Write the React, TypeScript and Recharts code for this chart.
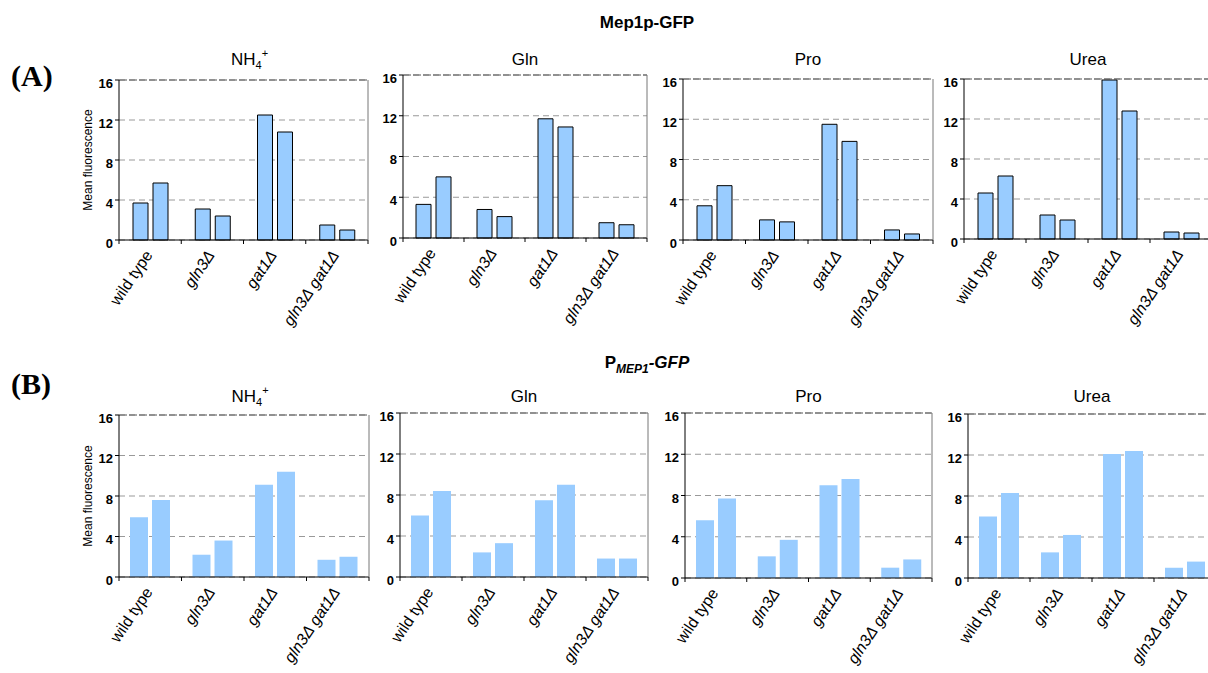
import * as React from "react"
import { BarChart, Bar, XAxis, YAxis, CartesianGrid, ReferenceLine } from "recharts"

// strains on the x axis
const strains = ["wild type", "gln3Δ", "gat1Δ", "gln3Δ gat1Δ"]
const italicStrain = [false, true, true, true]
const yTicks = [0, 4, 8, 12, 16]

// (A) Mep1p-GFP, two bars per strain
const mepNH4First = [3.7, 3.1, 12.5, 1.5]
const mepNH4Second = [5.7, 2.4, 10.8, 1.0]
const mepGlnFirst = [3.3, 2.8, 11.7, 1.5]
const mepGlnSecond = [6.0, 2.1, 10.9, 1.3]
const mepProFirst = [3.4, 2.0, 11.5, 1.0]
const mepProSecond = [5.4, 1.8, 9.8, 0.6]
const mepUreaFirst = [4.6, 2.4, 15.9, 0.7]
const mepUreaSecond = [6.3, 1.9, 12.8, 0.6]

// (B) P_MEP1-GFP
const promNH4First = [5.9, 2.2, 9.1, 1.7]
const promNH4Second = [7.6, 3.6, 10.4, 2.0]
const promGlnFirst = [6.0, 2.4, 7.5, 1.8]
const promGlnSecond = [8.4, 3.3, 9.0, 1.8]
const promProFirst = [5.6, 2.1, 9.0, 1.0]
const promProSecond = [7.7, 3.7, 9.6, 1.8]
const promUreaFirst = [6.0, 2.5, 12.1, 1.0]
const promUreaSecond = [8.3, 4.2, 12.4, 1.6]

const FONT = "Arial, 'Liberation Sans', sans-serif"

type Rect = { l: number; t: number; r: number; b: number }

const topRects: Rect[] = [
  { l: 119, t: 80, r: 368, b: 240 },
  { l: 403, t: 75, r: 647, b: 238 },
  { l: 683, t: 79, r: 933, b: 240 },
  { l: 964, t: 79, r: 1212, b: 239 },
]
const bottomRects: Rect[] = [
  { l: 119, t: 415, r: 369, b: 577 },
  { l: 400, t: 413, r: 648, b: 577 },
  { l: 685, t: 413, r: 932, b: 578 },
  { l: 968, t: 414, r: 1216, b: 578 },
]

const buildData = (first: number[], second: number[]) =>
  strains.map((name, i) => ({ name, first: first[i], second: second[i] }))

const makeTick = (band: number) => (props: any) => {
  const { x, y, payload, index } = props
  const italic = italicStrain[strains.indexOf(payload.value)]
  return (
    <g>
      <line x1={x - band / 2} x2={x - band / 2} y1={y} y2={y + 4} stroke="#000" />
      {index === strains.length - 1 && (
        <line x1={x + band / 2} x2={x + band / 2} y1={y} y2={y + 4} stroke="#000" />
      )}
      <text
        transform={`translate(${x + 3},${y + 15}) rotate(-56)`}
        textAnchor="end"
        fontFamily={FONT}
        fontSize={16}
        fontStyle={italic ? "italic" : "normal"}
        fill="#000"
      >
        {payload.value}
      </text>
    </g>
  )
}

const YTick = (props: any) => {
  const { x, y, payload } = props
  return (
    <text x={x} y={y + 3} dy="0.355em" textAnchor="end" fill="#000" fontSize={13} fontWeight="bold" fontFamily={FONT}>
      {payload.value}
    </text>
  )
}

const AXIS_W = 45
const MT = 12
const MR = 4
const XH = 100

function Panel({ rect, first, second, outlined }: { rect: Rect; first: number[]; second: number[]; outlined: boolean }) {
  const plotW = rect.r - rect.l
  const plotH = rect.b - rect.t
  const width = AXIS_W + plotW + 1 + MR
  const height = MT + plotH + XH
  const data = buildData(first, second)
  const barSize = outlined ? 15 : 18
  const barGap = outlined ? 5 : 4
  const barProps = outlined ? { stroke: "#000", strokeWidth: 1 } : { stroke: "none" }
  return (
    <div style={{ position: "absolute", left: rect.l - AXIS_W, top: rect.t - MT, width, height }}>
      <BarChart
        width={width}
        height={height}
        data={data}
        margin={{ top: MT, right: MR, left: 0, bottom: 0 }}
        barSize={barSize}
        barGap={barGap}
      >
        <CartesianGrid vertical={false} stroke="#999" strokeDasharray="6 4" />
        <ReferenceLine y={16} stroke="#555" strokeDasharray="8 2" />
        <XAxis
          dataKey="name"
          height={XH}
          axisLine={{ stroke: "#000" }}
          tickLine={false}
          tickSize={0}
          tickMargin={0}
          interval={0}
          tick={makeTick(plotW / strains.length)}
        />
        <YAxis
          width={AXIS_W}
          domain={[0, 16]}
          ticks={yTicks}
          interval={0}
          axisLine={{ stroke: "#000" }}
          tickLine={{ stroke: "#000" }}
          tickSize={4}
          tickMargin={2}
          tick={YTick}
        />
        <YAxis
          yAxisId="r"
          orientation="right"
          width={1}
          domain={[0, 16]}
          tick={false}
          tickLine={false}
          axisLine={{ stroke: "#777" }}
        />
        <Bar dataKey="first" fill="#99ccff" {...barProps} isAnimationActive={false} />
        <Bar dataKey="second" fill="#99ccff" {...barProps} isAnimationActive={false} />
      </BarChart>
    </div>
  )
}

const NH4Title = ({ x, y }: { x: number; y: number }) => (
  <text x={x} y={y} textAnchor="middle" fontFamily={FONT} fontSize={17}>
    NH
    <tspan fontSize={11} dy={4}>4</tspan>
    <tspan fontSize={11} dy={-12}>+</tspan>
  </text>
)

const SimpleTitle = ({ x, y, label }: { x: number; y: number; label: string }) => (
  <text x={x} y={y} textAnchor="middle" fontFamily={FONT} fontSize={17}>
    {label}
  </text>
)

const sourceTitles = ["NH4", "Gln", "Pro", "Urea"]

export default function App() {
  const topSets = [
    [mepNH4First, mepNH4Second],
    [mepGlnFirst, mepGlnSecond],
    [mepProFirst, mepProSecond],
    [mepUreaFirst, mepUreaSecond],
  ]
  const bottomSets = [
    [promNH4First, promNH4Second],
    [promGlnFirst, promGlnSecond],
    [promProFirst, promProSecond],
    [promUreaFirst, promUreaSecond],
  ]
  const renderTitles = (rects: Rect[], baseline: number) =>
    rects.map((r, i) => {
      const center = (r.l + r.r) / 2
      return sourceTitles[i] === "NH4" ? (
        <NH4Title key={i} x={center + 6} y={baseline} />
      ) : (
        <SimpleTitle key={i} x={center} y={baseline} label={sourceTitles[i]} />
      )
    })

  return (
    <div style={{ position: "absolute", left: 0, top: 0, width: 1208, height: 673, overflow: "hidden", background: "#fff" }}>
      {topRects.map((r, i) => (
        <Panel key={"t" + i} rect={r} first={topSets[i][0]} second={topSets[i][1]} outlined />
      ))}
      {bottomRects.map((r, i) => (
        <Panel key={"b" + i} rect={r} first={bottomSets[i][0]} second={bottomSets[i][1]} outlined={false} />
      ))}
      <svg width={1208} height={673} style={{ position: "absolute", left: 0, top: 0, pointerEvents: "none" }}>
        <text x={647} y={28} textAnchor="middle" fontFamily={FONT} fontSize={17} fontWeight="bold">
          Mep1p-GFP
        </text>
        <text x={647} y={368} textAnchor="middle" fontFamily={FONT} fontSize={17} fontWeight="bold">
          P
          <tspan fontSize={12} fontStyle="italic" dy={5}>MEP1</tspan>
          <tspan fontStyle="italic" dy={-5}>-GFP</tspan>
        </text>
        <text x={11} y={86} fontFamily="'Liberation Serif', 'Times New Roman', serif" fontSize={30} fontWeight="bold">
          (A)
        </text>
        <text x={11} y={394} fontFamily="'Liberation Serif', 'Times New Roman', serif" fontSize={30} fontWeight="bold">
          (B)
        </text>
        {renderTitles(topRects, 65)}
        {renderTitles(bottomRects, 402)}
        <text
          transform={`translate(92,${(topRects[0].t + topRects[0].b) / 2}) rotate(-90)`}
          textAnchor="middle"
          fontFamily={FONT}
          fontSize={12}
        >
          Mean fluorescence
        </text>
        <text
          transform={`translate(92,${(bottomRects[0].t + bottomRects[0].b) / 2}) rotate(-90)`}
          textAnchor="middle"
          fontFamily={FONT}
          fontSize={12}
        >
          Mean fluorescence
        </text>
      </svg>
    </div>
  )
}
